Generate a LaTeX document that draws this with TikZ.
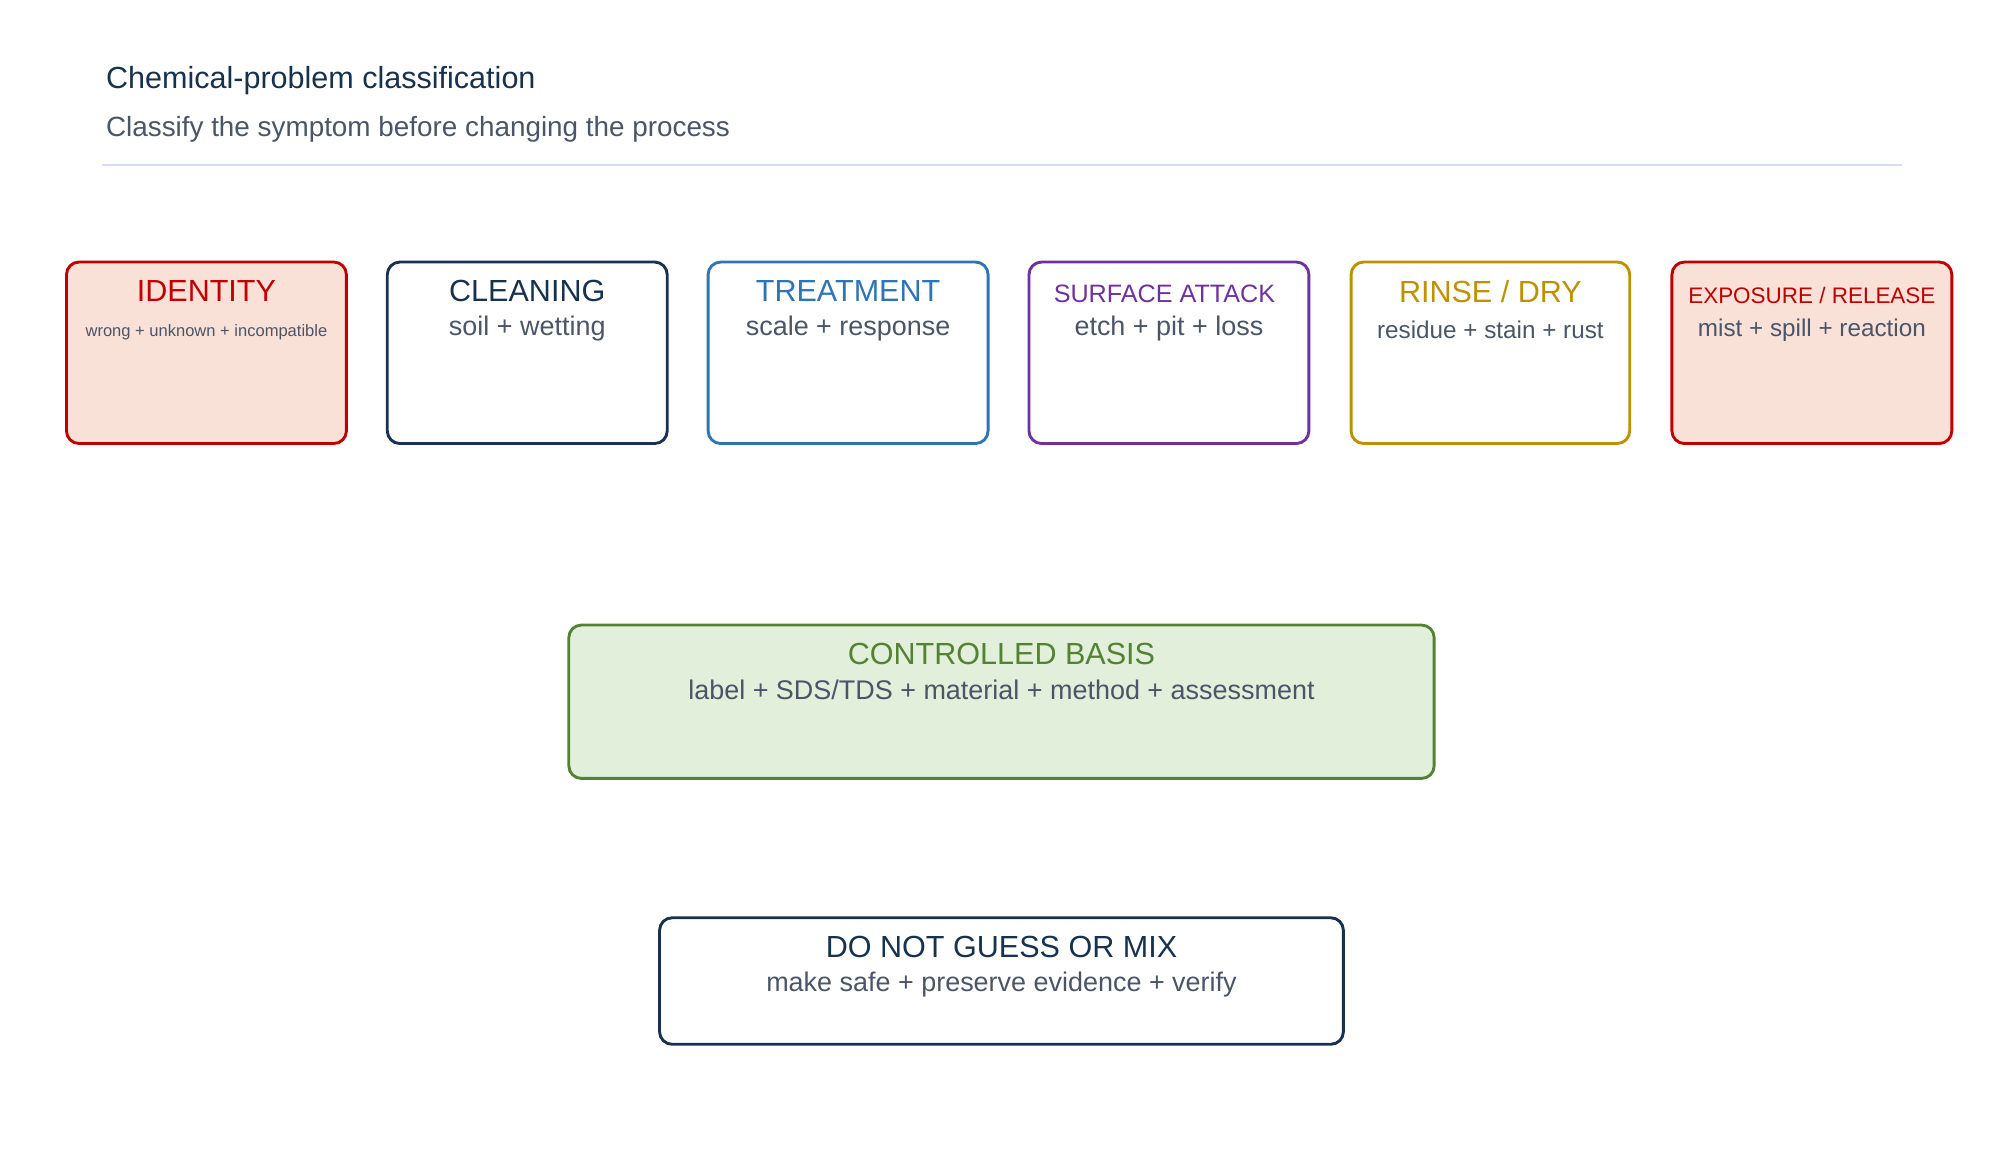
\documentclass[tikz,border=0pt]{standalone}
\usepackage{fontspec}
\setmainfont{Liberation Sans}
\definecolor{ink}{HTML}{17324F}
\definecolor{grey}{HTML}{4A5568}
\definecolor{idred}{HTML}{C00000}
\definecolor{idfill}{HTML}{F9E1D8}
\definecolor{trblue}{HTML}{2E75B6}
\definecolor{surfpur}{HTML}{7030A0}
\definecolor{rinse}{HTML}{BF9000}
\definecolor{basgreen}{HTML}{548235}
\definecolor{basfill}{HTML}{E2EFDA}
\definecolor{rule}{HTML}{D6DCF5}
\tikzset{
  box/.style={draw=#1,line width=1.6pt,rounded corners=7pt,inner sep=0pt},
  head/.style={font=\fontsize{17}{19}\selectfont,text=#1,anchor=center},
  sub/.style={font=\fontsize{15}{17}\selectfont,text=grey,anchor=center}
}
\begin{document}
\begin{tikzpicture}[x=0.25mm,y=-0.25mm]
\useasboundingbox (0,0) rectangle (1560,908);
%header
\node[anchor=west,font=\fontsize{17}{19}\selectfont,text=ink] (title) at (78,63) {Chemical-problem classification};
\node[anchor=west,font=\fontsize{15.5}{17}\selectfont,text=grey] (subtitle) at (78,101) {Classify the symptom before changing the process};
\draw[rule,line width=1pt] (80,129) -- (1488,129);
%top row
\draw[box=idred,fill=idfill] (52,205) rectangle (271,347);
\node[head=idred] (identity) at (161.5,228) {IDENTITY};
\node[sub,font=\fontsize{9.2}{11}\selectfont] (identitysub) at (161.5,260) {wrong + unknown + incompatible};
\draw[box=ink] (303,205) rectangle (522,347);
\node[head=ink] (cleaning) at (412.5,228) {CLEANING};
\node[sub] (cleaningsub) at (412.5,257) {soil + wetting};
\draw[box=trblue] (554,205) rectangle (773,347);
\node[head=trblue] (treatment) at (663.5,228) {TREATMENT};
\node[sub] (treatmentsub) at (663.5,257) {scale + response};
\draw[box=surfpur] (805,205) rectangle (1024,347);
\node[head=surfpur,font=\fontsize{14}{16}\selectfont] (surface) at (911,230) {SURFACE ATTACK};
\node[sub] (surfacesub) at (914.5,257) {etch + pit + loss};
\draw[box=rinse] (1057,205) rectangle (1275,347);
\node[head=rinse] (rinsedry) at (1166,228) {RINSE / DRY};
\node[sub,font=\fontsize{13.5}{15}\selectfont] (rinsesub) at (1166,258) {residue + stain + rust};
\draw[box=idred,fill=idfill] (1308,205) rectangle (1527,347);
\node[head=idred,font=\fontsize{12.5}{14}\selectfont] (exposure) at (1417.5,231) {EXPOSURE / RELEASE};
\node[sub,font=\fontsize{13.5}{15}\selectfont] (exposuresub) at (1417.5,258) {mist + spill + reaction};
%basis
\draw[box=basgreen,fill=basfill] (445,489) rectangle (1122,609);
\node[head=basgreen] (basis) at (783.5,512) {CONTROLLED BASIS};
\node[sub] (basissub) at (783.5,540) {label + SDS/TDS + material + method + assessment};
%stop
\draw[box=ink] (516,718) rectangle (1051,817);
\node[head=ink] (stop) at (783.5,741) {DO NOT GUESS OR MIX};
\node[sub] (stopsub) at (783.5,770) {make safe + preserve evidence + verify};
\end{tikzpicture}
\end{document}
